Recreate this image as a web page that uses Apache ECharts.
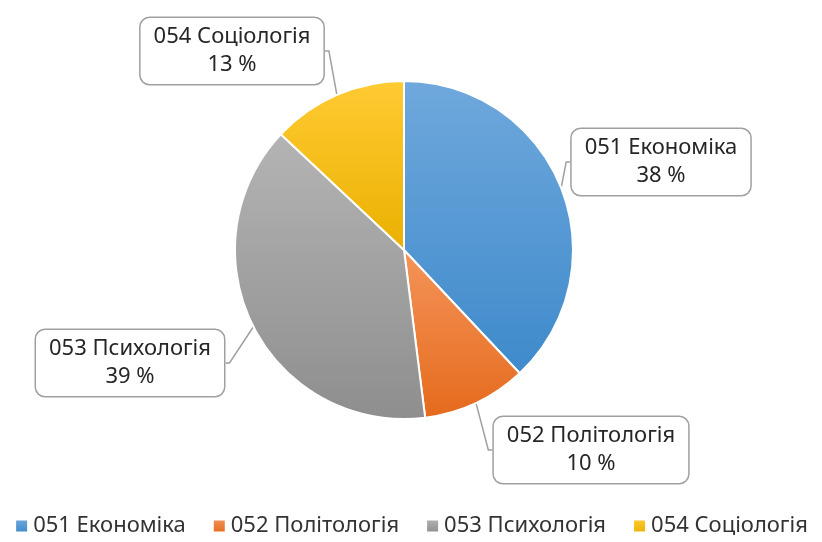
<!DOCTYPE html>
<html>
<head>
<meta charset="utf-8">
<script src="https://cdn.jsdelivr.net/npm/echarts@6/dist/echarts.min.js"></script>
<style>
  html, body { margin: 0; padding: 0; background: #fff; }
  #main { width: 822px; height: 542px; }
</style>
</head>
<body>
<div id="main"></div>
<script>
var categories = ['051 Економіка', '052 Політологія', '053 Психологія', '054 Соціологія'];
var shares = [38, 10, 39, 13];

// кольори зрізів: [світліший верх, темніший низ]
var colors = [
  ['#6fa8dc', '#3e8acb'],
  ['#f4945a', '#e56a1c'],
  ['#b4b4b4', '#8e8e8e'],
  ['#ffcb33', '#eab000']
];
// центри виносок
var labelPos = [[661, 162], [591, 450], [130, 363], [232, 51]];

var fontName = '"Noto Sans", sans-serif';

var chartDom = document.getElementById('main');
var myChart = echarts.init(chartDom);

var data = categories.map(function (name, i) {
  return {
    name: name,
    value: shares[i],
    itemStyle: {
      color: new echarts.graphic.LinearGradient(0, 0, 0, 1, [
        { offset: 0, color: colors[i][0] },
        { offset: 1, color: colors[i][1] }
      ])
    }
  };
});

var option = {
  animation: false,
  legend: {
    bottom: 0,
    left: 'center',
    icon: 'rect',
    itemWidth: 13,
    itemHeight: 13,
    itemGap: 26,
    textStyle: { fontSize: 22, color: '#333', fontFamily: fontName },
    data: categories
  },
  series: [
    {
      type: 'pie',
      center: [404, 250],
      radius: 169,
      startAngle: 90,
      itemStyle: { borderColor: '#fff', borderWidth: 2 },
      label: {
        show: true,
        formatter: function (p) { return p.name + '\n' + p.value + ' %'; },
        fontSize: 22,
        lineHeight: 28,
        color: '#262626',
        fontFamily: fontName,
        align: 'center',
        backgroundColor: '#fff',
        borderColor: '#a0a0a0',
        borderWidth: 1.5,
        borderRadius: 9,
        padding: [5, 13]
      },
      labelLine: {
        show: true,
        length: 8,
        length2: 4,
        lineStyle: { color: '#a0a0a0', width: 1.5 }
      },
      labelLayout: function (params) {
        var pos = labelPos[params.dataIndex];
        return { x: pos[0], y: pos[1], align: 'center', verticalAlign: 'middle' };
      },
      data: data
    }
  ]
};
myChart.setOption(option);
</script>
</body>
</html>
